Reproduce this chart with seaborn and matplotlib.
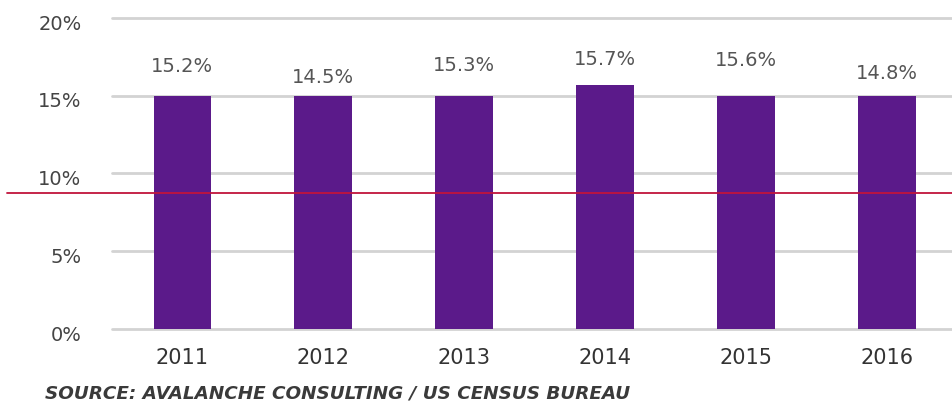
import matplotlib
matplotlib.use("Agg")
import matplotlib.pyplot as plt
import matplotlib.transforms as mtransforms
import seaborn as sns
import pandas as pd

# data
years = ["2011", "2012", "2013", "2014", "2015", "2016"]
bar_heights = [15.0, 15.0, 15.0, 15.7, 15.0, 15.0]   # bar tops as drawn
share = [15.2, 14.5, 15.3, 15.7, 15.6, 14.8]          # printed labels
y_ticks = [0, 5, 10, 15, 20]
ref_level = 8.75
source_note = "SOURCE: AVALANCHE CONSULTING / US CENSUS BUREAU"

df = pd.DataFrame({"year": years, "height": bar_heights, "share": share})

sns.set_style("white")
plt.rcParams["font.family"] = ["DejaVu Sans"]

fig = plt.figure(figsize=(9.52, 4.05), dpi=100)
ax = fig.add_axes([0.1176, 0.1877, 0.8824, 0.7679])

for t in y_ticks:
    ax.axhline(t, color="#d3d3d3", lw=2, zorder=0, clip_on=False)

sns.barplot(data=df, x="year", y="height", color="#5b1a8a", width=0.41,
            saturation=1, linewidth=0, ax=ax, zorder=2)

for i, v in enumerate(share):
    ax.text(i, v + 1.65, f"{v:.1f}%", ha="center", va="center",
            fontsize=14, color="#555555")

ax.axhline(ref_level, xmin=-0.125, xmax=1, color="#c0143c", lw=1.3,
           clip_on=False, zorder=3)

ax.set_xlim(-0.5, 5.46)
ax.set_ylim(0, 20)
ax.set_yticks(y_ticks)
ax.set_yticklabels([f"{t}%" for t in y_ticks])
ax.set_xlabel("")
ax.set_ylabel("")
ax.tick_params(axis="y", length=0, pad=22, labelsize=14, labelcolor="#444444")
ax.tick_params(axis="x", length=0, pad=14, labelsize=15, labelcolor="#333333")
# y labels sit a touch below their gridlines in the reference
shift = mtransforms.ScaledTranslation(0, -3 / 72, fig.dpi_scale_trans)
for lab in ax.get_yticklabels():
    lab.set_transform(lab.get_transform() + shift)
for s in ax.spines.values():
    s.set_visible(False)

fig.text(45 / 952, 1 - 393 / 405, source_note, fontsize=13.2, style="italic",
         weight="bold", color="#3a3a3a", va="center", ha="left")

fig.savefig("out.png", dpi=100)
